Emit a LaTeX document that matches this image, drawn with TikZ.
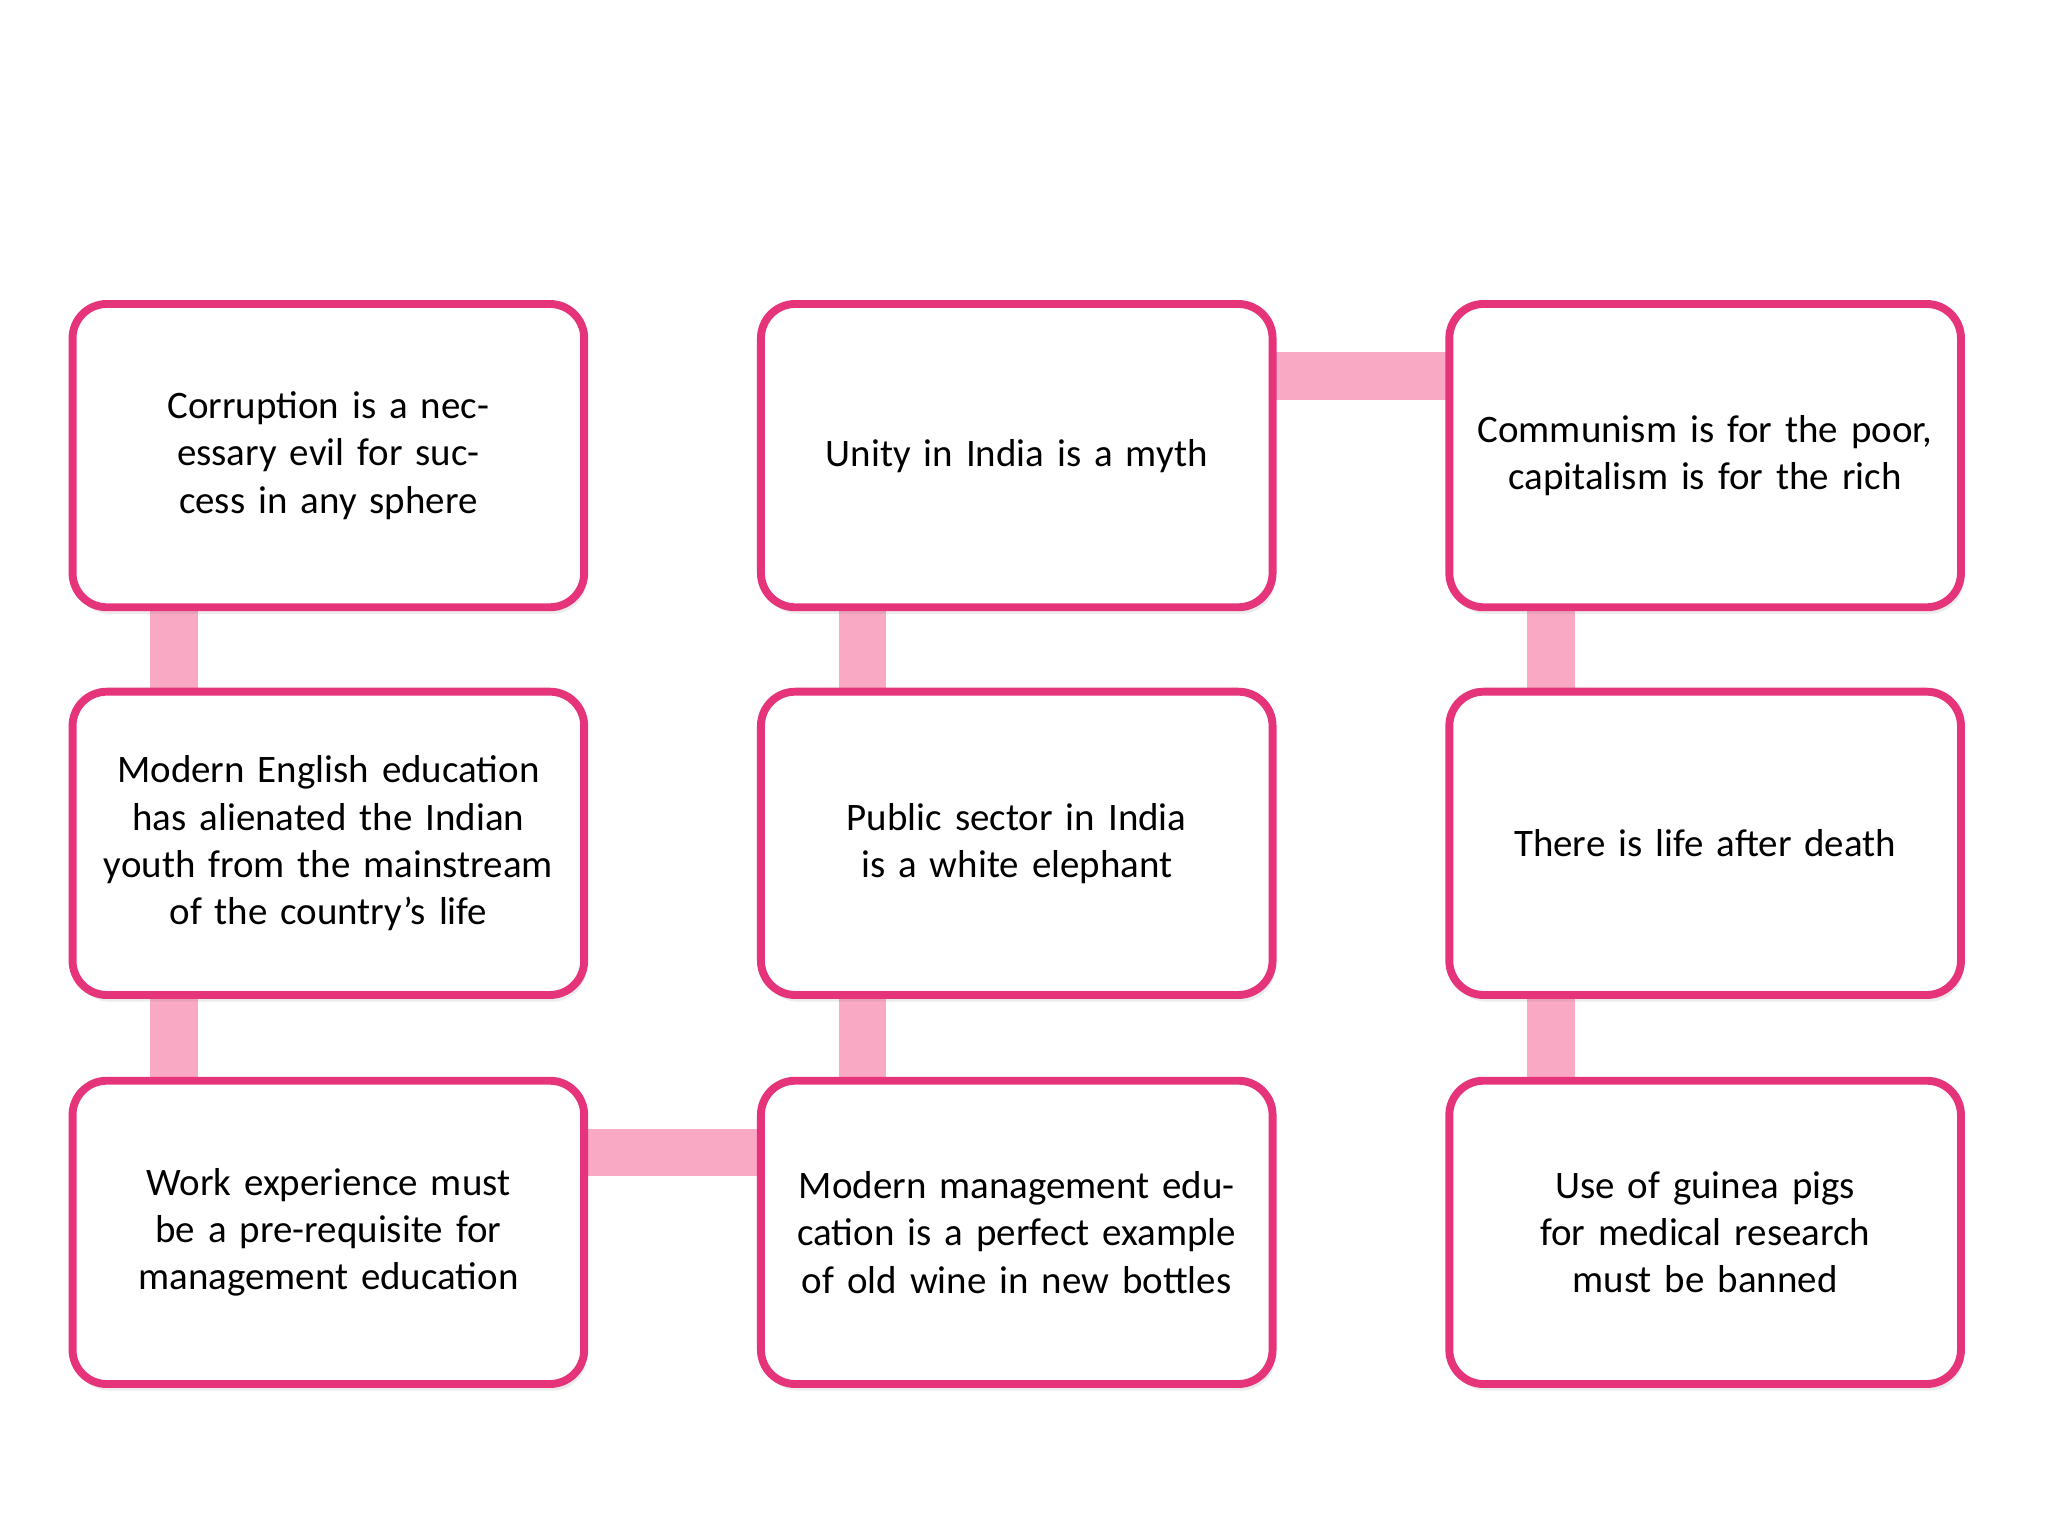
\documentclass[tikz,border=0pt]{standalone}
\usepackage{fontspec}
\setmainfont{Carlito}
\usetikzlibrary{shadows}
\definecolor{bord}{HTML}{E5347A}
\definecolor{conn}{HTML}{FAA9C4}
\begin{document}
\begin{tikzpicture}[x=0.05cm,y=-0.05cm,
  box/.style={draw=bord,line width=0.3cm,fill=white,rounded corners=1.3cm,minimum width=19.4cm,minimum height=11.5cm,align=center,text width=17.8cm,font=\fontsize{42}{51}\selectfont,drop shadow={shadow xshift=0.1cm,shadow yshift=-0.25cm,opacity=0.15}},
  link/.style={conn,line width=1.8cm}]
\useasboundingbox (0,0) rectangle (1553,1165);
\fill[white] (0,0) rectangle (1553,1165);
\coordinate (c1) at (249,345.5);
\coordinate (c2) at (771,345.5);
\coordinate (c3) at (1293,345.5);
\draw[link] (132,400) coordinate (a1) -- (132,1000) coordinate (a2);
\draw[link] (654,400) coordinate (b1) -- (654,900) coordinate (b2);
\draw[link] (1176,400) coordinate (d1) -- (1176,1000) coordinate (d2);
\draw[link] (900,285) coordinate (e1) -- (1150,285) coordinate (e2);
\draw[link] (400,874) coordinate (f1) -- (620,874) coordinate (f2);
\node[box] (n11) at (249,345.5) {Corruption is a necessary evil for success in any sphere};
\node[box] (n12) at (771,345.5) {Unity in India is a myth};
\node[box] (n13) at (1293,345.5) {Communism is for the poor, capitalism is for the rich};
\node[box] (n21) at (249,639.5) {Modern English education has alienated the Indian youth from the mainstream of the country’s life};
\node[box] (n22) at (771,639.5) {Public sector in India is a white elephant};
\node[box] (n23) at (1293,639.5) {There is life after death};
\node[box] (n31) at (249,934.5) {Work experience must be a pre-requisite for management education};
\node[box] (n32) at (771,934.5) {Modern management education is a perfect example of old wine in new bottles};
\node[box] (n33) at (1293,934.5) {Use of guinea pigs for medical research must be banned};
\end{tikzpicture}
\end{document}
